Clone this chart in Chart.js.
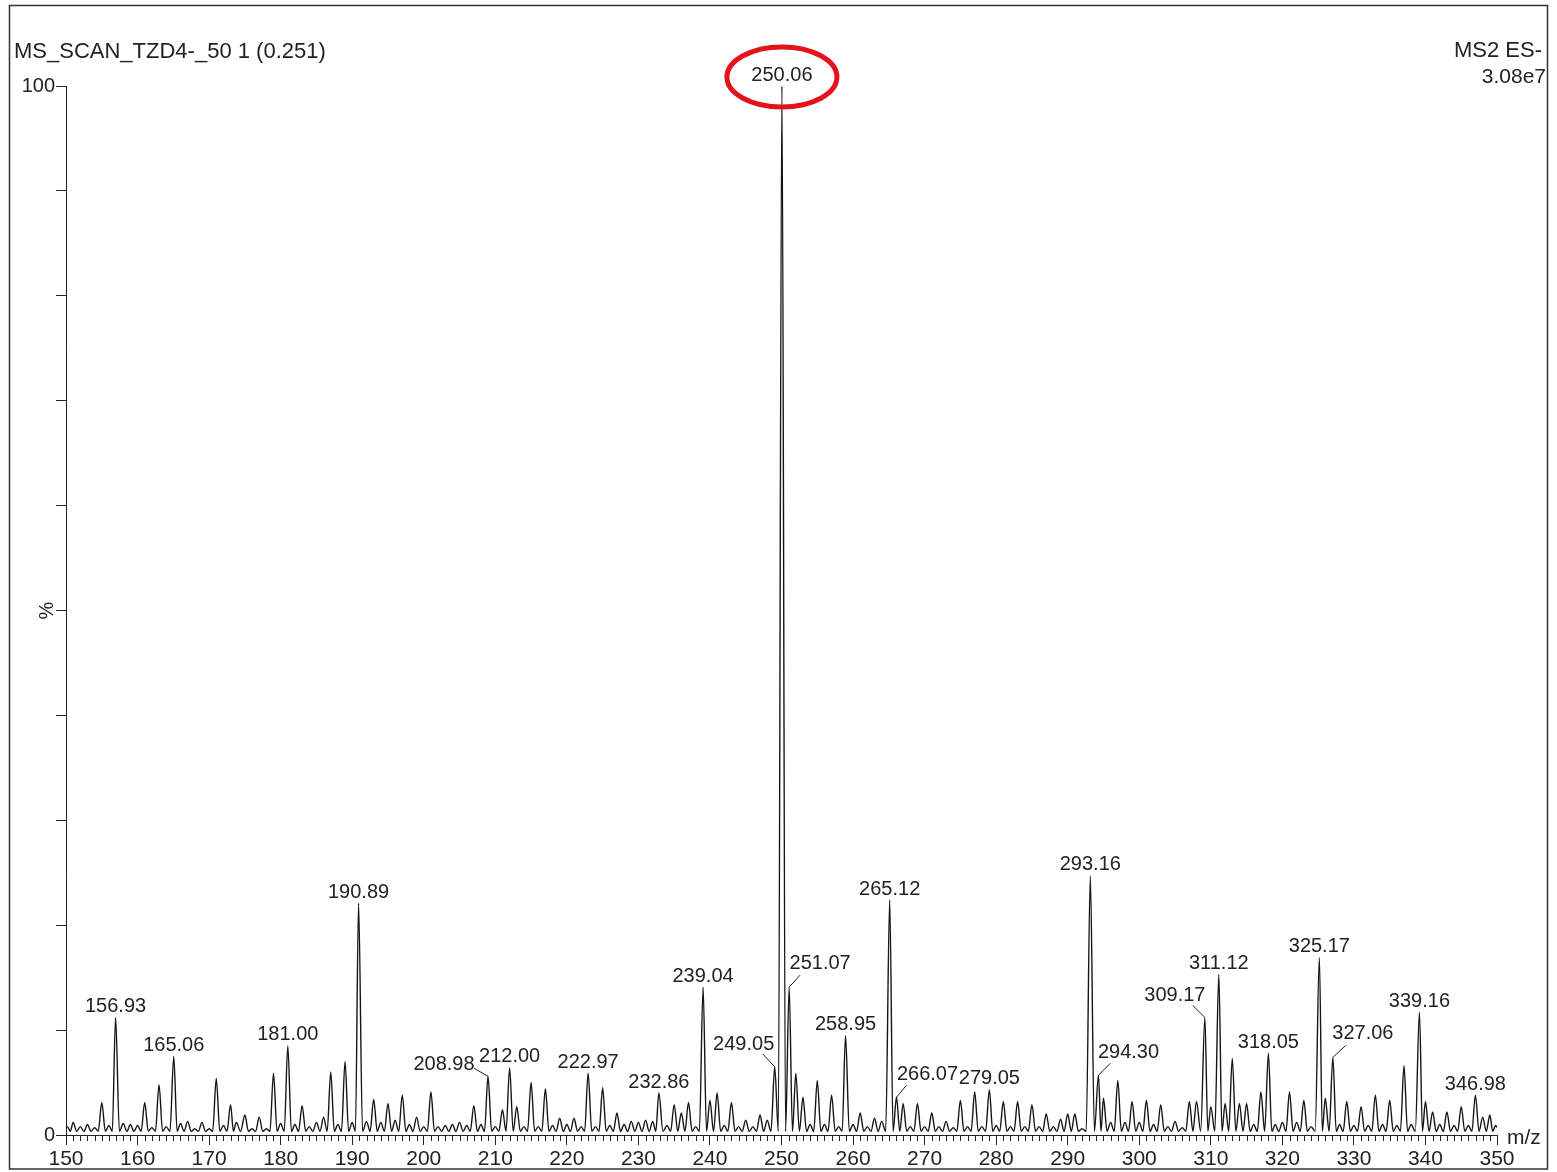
<!DOCTYPE html>
<html lang="en">
<head>
<meta charset="UTF-8">
<title>MS2 ES- spectrum</title>
<style>
  body { margin: 0; background: #fff; }
  canvas { display: block; }
</style>
<script src="https://cdn.jsdelivr.net/npm/chart.js@4.4.1/dist/chart.umd.min.js"></script>
</head>
<body>
<canvas id="spec" width="1557" height="1172"></canvas>
<script>
// peak apexes (m/z, % of base peak)
const peakMz = [
  150.2, 151, 152, 153, 154, 155, 156, 156.93, 158, 159, 160, 161, 162, 163, 164, 165.06,
  166, 167, 168, 169, 170, 171, 172, 173, 173.8, 175, 176, 177, 178, 179, 180, 181.00,
  182, 183, 184, 185, 186, 187, 188, 189, 190, 190.89, 192, 193, 194, 195, 196, 197,
  198, 199, 200, 201, 202, 203, 204, 205, 206, 207, 208, 208.98, 210, 211, 212.00, 213,
  214, 215, 216, 217, 218, 219, 220, 221, 222, 222.97, 224, 225, 226, 227, 228, 229,
  230, 231, 232, 232.86, 234, 235, 236, 237, 238, 239.04, 240, 241, 242, 243, 244, 245,
  246, 247, 248, 249.05, 250.06, 251.07, 252, 253, 254, 255, 256, 257, 258, 258.95, 260, 261,
  262, 263, 264, 265.12, 266.07, 267, 268, 269, 270, 271, 272, 273, 274, 275, 276, 277,
  278, 279.05, 280, 281, 282, 283, 284, 285, 286, 287, 288, 289, 290, 291, 292, 293.16,
  294.30, 295, 296, 297, 298, 299, 300, 301, 302, 303, 304, 305, 306, 307, 308, 309.17,
  310, 311.12, 312, 313, 314, 315, 316, 317, 318.05, 319, 320, 321, 322, 323, 324, 325.17,
  326, 327.06, 328, 329, 330, 331, 332, 333, 334, 335, 336, 337, 338, 339.16, 340, 341,
  342, 343, 344, 345, 346, 346.98, 348, 349, 349.8
];
const peakPct = [
  0.8, 1.2, 0.8, 1.0, 0.7, 3.1, 0.9, 11.2, 1.1, 1.0, 0.9, 3.1, 0.7, 4.8, 0.8, 7.5,
  1.1, 1.3, 0.6, 1.2, 0.6, 5.4, 0.9, 2.9, 1.2, 1.9, 0.6, 1.7, 0.6, 5.9, 1.1, 8.5,
  1.0, 2.8, 0.8, 1.2, 1.7, 6.0, 1.0, 7.0, 1.2, 22.1, 1.3, 3.4, 1.2, 3.0, 1.4, 3.8,
  1.0, 1.7, 0.8, 4.1, 0.8, 0.9, 1.0, 1.2, 0.9, 2.8, 1.0, 5.6, 0.8, 2.4, 6.4, 2.7,
  0.8, 5.0, 0.8, 4.4, 0.9, 1.6, 1.0, 1.6, 0.8, 5.9, 0.8, 4.5, 0.9, 2.1, 1.0, 1.3,
  1.2, 1.4, 1.3, 4.0, 0.9, 2.9, 2.1, 3.1, 0.8, 14.1, 3.3, 4.0, 0.9, 3.1, 0.8, 1.4,
  0.8, 1.9, 1.4, 6.5, 100, 14.1, 5.9, 3.6, 1.0, 5.2, 1.0, 3.8, 0.8, 9.5, 1.0, 2.1,
  0.8, 1.6, 1.3, 22.4, 3.6, 3.0, 0.8, 3.0, 0.8, 2.1, 0.8, 1.3, 0.7, 3.3, 0.8, 4.1,
  0.8, 4.3, 0.9, 3.2, 0.8, 3.2, 0.8, 2.9, 0.8, 2.0, 0.8, 1.5, 2.0, 2.0, 0.6, 24.7,
  5.7, 3.5, 1.2, 5.2, 1.2, 3.2, 1.2, 3.3, 1.0, 2.9, 0.8, 1.3, 0.7, 3.2, 3.2, 11.2,
  2.7, 15.3, 3.0, 7.3, 3.0, 3.0, 1.0, 4.1, 7.8, 1.0, 1.2, 4.1, 1.2, 3.3, 0.8, 16.9,
  3.5, 7.4, 1.0, 3.2, 0.9, 2.7, 0.9, 3.8, 1.0, 3.3, 0.9, 6.6, 1.0, 11.7, 3.2, 2.2,
  1.0, 2.2, 0.9, 2.7, 0.9, 3.8, 1.7, 1.9, 0.9
];
const valleyPct = 0.35;   // level the trace drops to between peaks

// annotated peaks
const labelMz = [156.93, 165.06, 181.00, 190.89, 208.98, 212.00, 222.97, 232.86, 239.04,
  249.05, 250.06, 251.07, 258.95, 265.12, 266.07, 279.05, 293.16, 294.30, 309.17, 311.12,
  318.05, 325.17, 327.06, 339.16, 346.98];
const circledMz = 250.06;

const xMin = 150, xMax = 350, xStep = 10;
const yMin = 0, yMax = 100, yStep = 10;
const yShown = [0, 100];

const headerLeft = 'MS_SCAN_TZD4-_50 1 (0.251)';
const headerRight = ['MS2 ES-', '3.08e7'];
const xTitle = 'm/z';
const yTitle = '%';

// offset of label text / leader end from the apex, in px
const leaders = {
  '208.98': [-44, -12, -14, -8],
  '249.05': [-31, -22, -12, -13],
  '251.07': [31, -24, 11, -12],
  '266.07': [31, -23, 10, -12],
  '294.30': [30, -23, 12, -12],
  '309.17': [-30, -22, -12, -12],
  '327.06': [30, -24, 13, -12]
};

const INK = '#222';
const FONT = '"Liberation Sans", Arial, sans-serif';

// build the profile: apex points with a drop between neighbours
const trace = [];
peakMz.forEach((m, i) => {
  if (i === 0) trace.push({ x: m - 0.5, y: valleyPct });
  trace.push({ x: m, y: peakPct[i] });
  const next = i < peakMz.length - 1 ? (m + peakMz[i + 1]) / 2 : m + 0.5;
  trace.push({ x: next, y: valleyPct });
});

const annot = {
  id: 'annot',
  afterDraw(chart) {
    const { ctx, chartArea: a, scales: { x, y } } = chart;
    ctx.save();

    // minor x ticks
    ctx.strokeStyle = INK;
    ctx.lineWidth = 1;
    ctx.beginPath();
    for (let m = xMin; m <= xMax; m++) {
      if (m % xStep === 0) continue;
      const px = Math.round(x.getPixelForValue(m)) + 0.5;
      ctx.moveTo(px, a.bottom);
      ctx.lineTo(px, a.bottom + 6);
    }
    ctx.stroke();

    // peak labels
    ctx.font = '20px ' + FONT;
    ctx.fillStyle = INK;
    ctx.textAlign = 'center';
    ctx.textBaseline = 'middle';
    labelMz.forEach(m => {
      const i = peakMz.indexOf(m);
      const px = x.getPixelForValue(m);
      const py = y.getPixelForValue(peakPct[i]);
      const key = m.toFixed(2);
      const o = leaders[key];
      let tx = px, ty = py - 11;
      if (o) {
        tx = px + o[0];
        ty = py + o[1];
        ctx.strokeStyle = INK;
        ctx.lineWidth = 1;
        ctx.beginPath();
        ctx.moveTo(px, py);
        ctx.lineTo(px + o[2], py + o[3]);
        ctx.stroke();
      }
      ctx.fillText(key, tx, ty);
      if (m === circledMz) {
        ctx.strokeStyle = '#e3121b';
        ctx.lineWidth = 5;
        ctx.beginPath();
        ctx.ellipse(tx, ty + 2, 55, 30, 0, 0, Math.PI * 2);
        ctx.stroke();
      }
    });

    // header texts
    ctx.font = '22px ' + FONT;
    ctx.textBaseline = 'alphabetic';
    ctx.textAlign = 'left';
    ctx.fillText(headerLeft, 14, 58);
    ctx.textAlign = 'right';
    ctx.fillText(headerRight[0], 1542, 57);
    ctx.font = '21px ' + FONT;
    ctx.fillText(headerRight[1], 1546, 83);

    // axis titles
    ctx.textAlign = 'left';
    ctx.fillText(xTitle, 1507, 1144);
    ctx.save();
    ctx.translate(47, y.getPixelForValue(50));
    ctx.rotate(-Math.PI / 2);
    ctx.textAlign = 'center';
    ctx.textBaseline = 'middle';
    ctx.font = '20px ' + FONT;
    ctx.fillText(yTitle, 0, 0);
    ctx.restore();

    // frame
    ctx.strokeStyle = '#333';
    ctx.lineWidth = 1.5;
    ctx.strokeRect(9.5, 5.5, 1538, 1163.5);
    ctx.restore();
  }
};

new Chart(document.getElementById('spec'), {
  type: 'line',
  data: {
    datasets: [{
      data: trace,
      borderColor: '#151515',
      borderWidth: 1.4,
      pointRadius: 0,
      cubicInterpolationMode: 'monotone',
      fill: false
    }]
  },
  options: {
    responsive: false,
    animation: false,
    layout: { padding: { left: 0, top: 86, right: 60, bottom: 0 } },
    plugins: { legend: { display: false }, tooltip: { enabled: false } },
    scales: {
      x: {
        type: 'linear',
        min: xMin,
        max: xMax,
        ticks: {
          stepSize: xStep,
          autoSkip: false,
          maxRotation: 0,
          padding: 2,
          color: INK,
          font: { family: FONT, size: 21 }
        },
        grid: { drawOnChartArea: false, tickLength: 10, tickColor: INK, tickWidth: 1 },
        border: { color: INK, width: 1 },
        afterFit(s) { s.height = 37; }
      },
      y: {
        min: yMin,
        max: yMax,
        ticks: {
          stepSize: yStep,
          padding: 1,
          color: INK,
          font: { family: FONT, size: 20 },
          callback: v => (yShown.includes(v) ? String(v) : '')
        },
        grid: { drawOnChartArea: false, tickLength: 10, tickColor: INK, tickWidth: 1 },
        border: { color: INK, width: 1 },
        afterFit(s) { s.width = 66; }
      }
    }
  },
  plugins: [annot]
});
</script>
</body>
</html>
